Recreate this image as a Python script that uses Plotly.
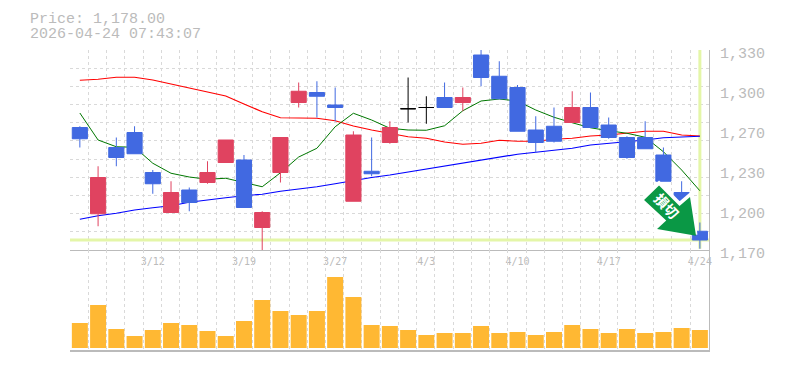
import plotly.graph_objects as go

dates = ["3/6","3/9","3/10","3/11","3/12","3/13","3/16","3/17","3/18","3/19","3/23","3/24","3/25","3/26","3/27",
         "3/30","3/31","4/1","4/2","4/3","4/6","4/7","4/8","4/9","4/10","4/13","4/14","4/15","4/16","4/17",
         "4/20","4/21","4/22","4/23","4/24"]
labelled_dates = ["3/12","3/19","3/27","4/3","4/10","4/17","4/24"]

opens = [1268,1199,1252,1264,1232,1200,1218,1224,1240,1242,1188,1232,1288,1296,1286,1209,1233,1256,1283,1284,
         1292,1288,1326,1309,1300,1266,1269,1272,1284,1270,1260,1260,1246,1216,1185]
highs = [1269,1237,1260,1269,1234,1225,1220,1241,1258,1246,1201,1260,1304,1305,1300,1265,1260,1273,1308,1293,
         1304,1300,1330,1321,1302,1277,1284,1297,1296,1276,1261,1273,1252,1225,1192]
lows = [1252,1189,1237,1247,1215,1200,1201,1223,1240,1204,1170,1224,1284,1276,1273,1209,1229,1255,1272,1271,
        1284,1281,1301,1291,1265,1248,1256,1272,1268,1259,1243,1251,1225,1204,1171]
closes = [1259,1228,1244,1247,1223,1216,1208,1232,1258,1204,1200,1260,1297,1293,1284,1262,1231,1268,1283,1284,
          1284,1292,1308,1291,1265,1256,1257,1284,1268,1260,1244,1251,1225,1206,1178]

ma_short = [1279.6,1258,1252.6,1252.2,1239.4,1231.4,1228.4,1226.6,1227.4,1223.8,1220.6,1231.8,1244.4,1251.4,1268.6,
            1279.4,1274,1267.4,1266,1265.8,1269.4,1281.4,1289.2,1290.8,1289.2,1282,1276.2,1271.8,1267.8,1265.4,
            1263.4,1260.2,1248.6,1234,1217.4]
ma_mid = [1305.8,1306.6,1308.2,1308.2,1306,1302.8,1299.4,1296.2,1293.2,1286.8,1280.6,1275.8,1275.4,1275.4,1273.4,
          1269.2,1266,1263.4,1260.6,1259.4,1256.4,1254.6,1255.4,1257.8,1257,1257,1258.6,1259.4,1261.2,1262,
          1263.4,1265,1265,1262,1261.2]
ma_long = [1194.6,1197.4,1199.4,1202,1203.8,1205.4,1208.2,1210.2,1211.8,1213.4,1214.6,1217,1218.6,1220.6,1223,
           1225.6,1228,1230,1232.4,1234.6,1237.2,1239.4,1241.4,1244.2,1246.6,1248.2,1250,1251.4,1254,1255.4,
           1256.2,1258,1259.8,1260.4,1261]
volumes = [25,43,19,12,18,25,23,17,12,27,48,37,33,37,71,51,23,22,18,13,15,15,22,15,16,13,16,23,19,15,19,15,16,20,18]

last_price = 1178
y_tick_values = [1330,1298,1266,1234,1202,1170]
y_tick_labels = ["1,330","1,300","1,270","1,230","1,200","1,170"]
title_lines = ["Price: 1,178.00","2026-04-24 07:43:07"]
signal_label = "損切"

# The page has an 8px body margin, so the figure is 8px smaller and margins are 8px less.
PAGE = 8
W,H = 785,370
L,R,T,B = 70,709.5,50,350
MID = 250
def px(x): return (x-L)/(R-L)
def py(y): return (B-y)/(B-T)

GRID = "#d9d9d9"; AXIS = "#bbbbbb"; TXT = "#bbbbbb"
BLUE = "#4169E1"; RED = "#E04360"; CROSS = "#E4F6A8"; ORANGE = "#FFB833"
MONO = "Liberation Mono"
idx = list(range(len(dates)))
n = len(dates)

up = [i for i in idx if closes[i] > opens[i]]
down = [i for i in idx if closes[i] < opens[i]]
flat = [i for i in idx if closes[i] == opens[i]]

fig = go.Figure()
fig.add_trace(go.Scatter(x=[-0.54,34.5],y=[last_price,last_price],mode="lines",line=dict(color=CROSS,width=3),hoverinfo="skip"))
fig.add_trace(go.Scatter(x=[n-1,n-1],y=[1171,1330],mode="lines",line=dict(color=CROSS,width=3),hoverinfo="skip"))
for vals,col,w in [(ma_mid,"#ff0000",1.2),(ma_short,"#007700",1),(ma_long,"#0000ff",1.2)]:
    fig.add_trace(go.Scatter(x=idx,y=vals,mode="lines",line=dict(color=col,width=w),hoverinfo="skip"))

def candles(sel,col):
    fig.add_trace(go.Candlestick(
        x=sel,open=[opens[i] for i in sel],high=[highs[i] for i in sel],
        low=[lows[i] for i in sel],close=[closes[i] for i in sel],
        yaxis="y3",whiskerwidth=0,
        increasing=dict(line=dict(color=col,width=1),fillcolor=col),
        decreasing=dict(line=dict(color=col,width=1),fillcolor=col)))
candles(up,RED); candles(down,BLUE); candles(flat,"#000000")

fig.add_trace(go.Bar(x=idx,y=volumes,marker=dict(color=ORANGE,line=dict(width=0)),xaxis="x2",yaxis="y2"))

grid_x = dict(showgrid=True,gridcolor=GRID,griddash="3px,3px",gridwidth=1,tick0=-0.53,dtick=1)
xr = [-0.54,34.5]
fig.update_layout(
    width=W-PAGE,height=H-PAGE,autosize=False,showlegend=False,
    margin=dict(l=L-PAGE,r=W-R,t=T-PAGE,b=H-B,pad=0,autoexpand=False),
    paper_bgcolor="white",plot_bgcolor="white",
    boxgap=0.17,boxgroupgap=0,bargap=0.123,
    font=dict(family=MONO,color=TXT),
    xaxis=dict(domain=[0,1],range=xr,anchor="y",automargin=False,showgrid=False,zeroline=False,showline=True,linecolor=AXIS,linewidth=1,
               tickmode="array",tickvals=[dates.index(d) for d in labelled_dates],ticktext=labelled_dates,
               tickfont=dict(family="DejaVu Sans Mono",size=10,color=TXT),ticks="",ticklabelstandoff=2,minor=grid_x,
               rangeslider=dict(visible=False)),
    yaxis=dict(domain=[py(MID),1],range=[1170,1330],anchor="x",automargin=False,side="right",showgrid=False,zeroline=False,showline=True,
               linecolor=AXIS,linewidth=1,tickmode="array",tickvals=y_tick_values,ticktext=y_tick_labels,
               tickfont=dict(family=MONO,size=15,color=TXT),ticks="",ticklabelstandoff=7,ticklabelshift=3),
    yaxis3=dict(domain=[py(MID),1],range=[1170,1330],overlaying="y",anchor="x",automargin=False,side="right",showline=False,zeroline=False,
                showticklabels=False,ticks="",tickmode="linear",tick0=1170,dtick=160/11,
                showgrid=True,gridcolor=GRID,griddash="3px,3px",gridwidth=1),
    xaxis2=dict(domain=[0,1],range=xr,anchor="y2",automargin=False,showgrid=False,zeroline=False,showline=True,linecolor=AXIS,linewidth=2,
                showticklabels=False,ticks="",minor=grid_x),
    yaxis2=dict(domain=[0,py(MID)],range=[-2,98],anchor="x2",automargin=False,side="right",showgrid=False,zeroline=False,showline=True,
                linecolor=AXIS,linewidth=1,showticklabels=False,ticks=""),
)

# signal arrow icon: white halo, green arrow, then its rotated label
def to_path(pts):
    return "M "+" L ".join(f"{px(x):.5f},{py(y):.5f}" for x,y in pts)+" Z"
arrow_pts = [(659.5,185.5),(680,206),(690.5,197),(696.5,235.7),(657.5,229),(666.7,220.5),(644.5,200)]
halo_pts = [(659.5,185.5),(680,206),(690.5,197),(694,231),(657.5,229),(666.7,220.5),(644.5,200)]
fig.add_shape(type="path",xref="paper",yref="paper",path=to_path(halo_pts),fillcolor="white",line=dict(color="white",width=7),layer="above")
fig.add_shape(type="path",xref="paper",yref="paper",path=to_path(arrow_pts),fillcolor="#0A9845",line=dict(width=0),layer="above")
fig.add_shape(type="rect",xref="paper",yref="paper",x0=px(656),x1=px(676),y0=py(217),y1=py(197),
              fillcolor="rgba(0,0,0,0)",line=dict(width=0),layer="above",
              label=dict(text=f"<b>{signal_label}</b>",textangle=47,textposition="middle center",
                         font=dict(family="Noto Sans CJK JP",size=14,color="white")))
for i,line in enumerate(title_lines):
    fig.add_annotation(xref="paper",yref="paper",x=px(28),y=py(19.5+15*i),xanchor="left",yanchor="middle",text=line,showarrow=False,
                       font=dict(family=MONO,size=15,color=TXT))

fig.write_html("out.html")
